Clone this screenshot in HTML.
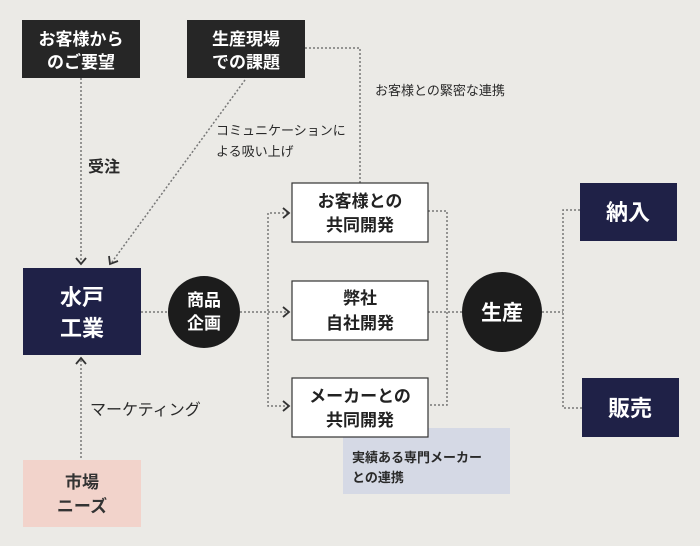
<!DOCTYPE html>
<html><head><meta charset="utf-8"><style>
body{margin:0;width:700px;height:546px;background:#ebeae6;font-family:"Liberation Sans","Noto Sans CJK JP",sans-serif;overflow:hidden}
svg{position:absolute;left:0;top:0}
</style></head><body>
<svg width="700" height="546" viewBox="0 0 700 546" font-family="Liberation Sans, Noto Sans CJK JP, sans-serif">
<rect width="700" height="546" fill="#ebeae6"/>
<g stroke="#777" stroke-width="1.5" stroke-dasharray="2,2" fill="none">
<line x1="81" y1="78" x2="81" y2="262"/>
<line x1="245" y1="80" x2="112" y2="262"/>
<polyline points="305,48 360,48 360,183"/>
<line x1="141" y1="312" x2="168" y2="312"/>
<line x1="240" y1="312" x2="288" y2="312"/>
<polyline points="288,213 268,213 268,406 288,406"/>
<polyline points="428,211 447,211 447,405 428,405"/>
<line x1="428" y1="312" x2="462" y2="312"/>
<line x1="542" y1="312" x2="563" y2="312"/>
<polyline points="580,210 563,210 563,408 582,408"/>
<line x1="81" y1="458" x2="81" y2="360"/>
</g>
<g stroke="#333" stroke-width="1.8" fill="none">
<polyline points="76,258 81,264 86,258"/>
<polyline points="109,256 110,264 118,261"/>
<polyline points="283,208 289,213 283,218"/>
<polyline points="283,307 289,312 283,317"/>
<polyline points="283,401 289,406 283,411"/>
<polyline points="76,364 81,358 86,364"/>
</g>
<rect x="22" y="20" width="118" height="58" fill="#262626"/>
<rect x="187" y="20" width="118" height="58" fill="#262626"/>
<g fill="#fff" font-weight="bold" font-size="17" text-anchor="middle">
<text x="81" y="45">お客様から</text><text x="81" y="68">のご要望</text>
<text x="246" y="45">生産現場</text><text x="246" y="68">での課題</text>
</g>
<rect x="23" y="268" width="118" height="87" fill="#1f2147"/>
<g fill="#fff" font-weight="bold" font-size="22" text-anchor="middle">
<text x="82" y="305">水戸</text><text x="82" y="336">工業</text>
</g>
<circle cx="204" cy="312" r="36" fill="#1c1c1c"/>
<g fill="#fff" font-weight="bold" font-size="17" text-anchor="middle">
<text x="204" y="306">商品</text><text x="204" y="329">企画</text>
</g>
<rect x="343" y="428" width="167" height="66" fill="#d5d9e5"/>
<g fill="#fff" stroke="#333" stroke-width="1.2">
<rect x="292" y="183" width="136" height="59"/>
<rect x="292" y="281" width="136" height="59"/>
<rect x="292" y="378" width="136" height="59"/>
</g>
<g fill="#222" font-size="17" text-anchor="middle" font-weight="bold">
<text x="360" y="207">お客様との</text><text x="360" y="231">共同開発</text>
<text x="360" y="304">弊社</text><text x="360" y="329">自社開発</text>
<text x="360" y="402">メーカーとの</text><text x="360" y="426">共同開発</text>
</g>
<circle cx="502" cy="312" r="40" fill="#1c1c1c"/>
<text x="502" y="320" fill="#fff" font-weight="bold" font-size="21" text-anchor="middle">生産</text>
<rect x="580" y="183" width="97" height="58" fill="#1f2147"/>
<rect x="582" y="378" width="97" height="59" fill="#1f2147"/>
<g fill="#fff" font-weight="bold" font-size="22" text-anchor="middle">
<text x="628" y="220">納入</text><text x="630" y="416">販売</text>
</g>
<rect x="23" y="460" width="118" height="67" fill="#f2d3cb"/>
<g fill="#333" font-weight="bold" font-size="17" text-anchor="middle">
<text x="82" y="488">市場</text><text x="82" y="512">ニーズ</text>
</g>
<g fill="#2a2a2a" font-size="13">
<text x="375" y="95">お客様との緊密な連携</text>
<text x="216" y="135">コミュニケーションに</text>
<text x="216" y="156">よる吸い上げ</text>
<text x="88" y="172" font-size="16" font-weight="bold">受注</text>
<text x="90" y="415" font-size="16">マーケティング</text>
<text x="352" y="462" font-weight="bold">実績ある専門メーカー</text>
<text x="352" y="482" font-weight="bold">との連携</text>
</g>
</svg>
</body></html>
